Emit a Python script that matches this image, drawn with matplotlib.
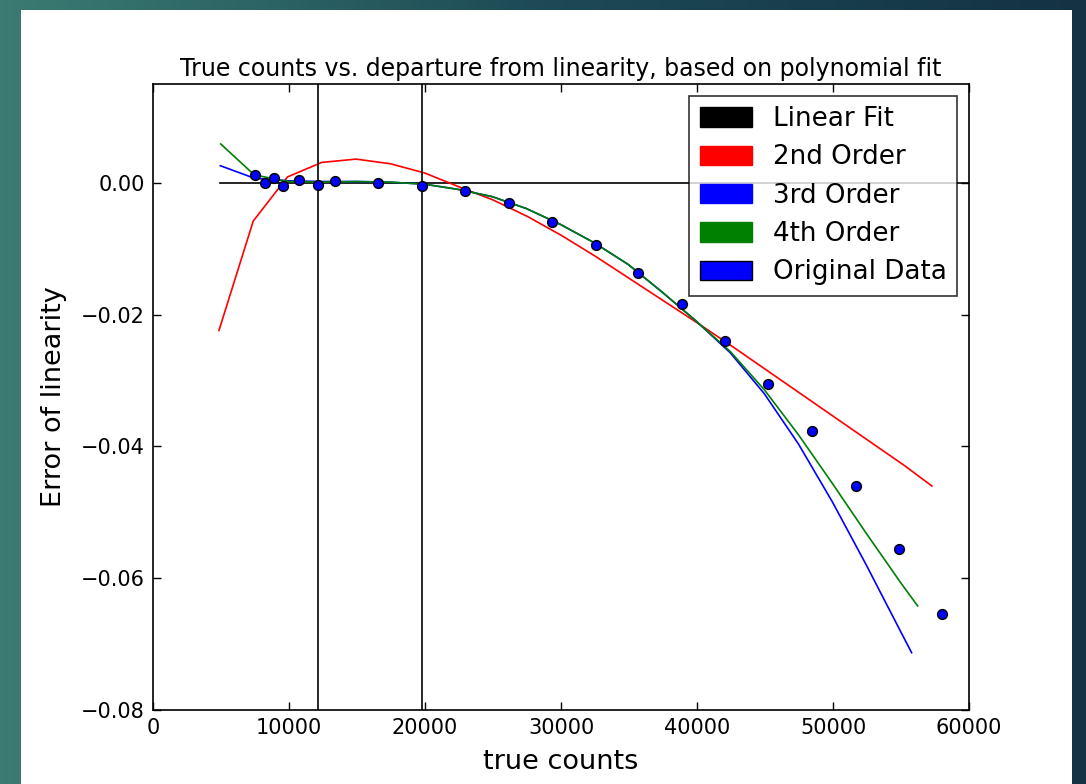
import numpy as np
import matplotlib
matplotlib.use("Agg")
import matplotlib.pyplot as plt
import matplotlib.patches as mpatches

# --- measured data (true counts vs error of linearity) ---
data_x = [7500, 8230, 8900, 9560, 10740, 12130, 13380, 16540, 19780, 22940,
          26180, 29360, 32560, 35680, 38880, 42060, 45240, 48480, 51670, 54830, 58050]
data_y = [0.0012, 0.0000, 0.0008, -0.0005, 0.0005, -0.0003, 0.0003, 0.0000, -0.0005, -0.0012,
          -0.0030, -0.0059, -0.0094, -0.0137, -0.0184, -0.0240, -0.0305, -0.0376, -0.0460, -0.0556, -0.0655]

# --- fits ---
lin_x = [4900, 62000]
lin_y = [0.0, 0.0]

red_x = [4850, 7370, 9890, 12410, 14930, 17450, 19970, 22490, 25010, 27530, 30050,
         32570, 35090, 37610, 40130, 42650, 45170, 47690, 50210, 52730, 55250, 57270]
red_y = [-0.0224, -0.0058, 0.0009, 0.0031, 0.0036, 0.0029, 0.0015, -0.0006, -0.0026, -0.0051, -0.0080,
         -0.0112, -0.0146, -0.0180, -0.0214, -0.0249, -0.0285, -0.0321, -0.0357, -0.0393, -0.0429, -0.0460]

blue_x = [4950, 7450, 9950, 12450, 14950, 17450, 19950, 22450, 24950, 27450, 29950,
          32450, 34950, 37450, 39950, 42450, 44950, 47450, 49950, 52450, 54950, 55780]
blue_y = [0.0026, 0.0007, 0.0003, 0.0002, 0.0002, 0.0001, -0.0002, -0.0010, -0.0021, -0.0039, -0.0063,
          -0.0091, -0.0124, -0.0166, -0.0210, -0.0258, -0.0320, -0.0396, -0.0484, -0.0580, -0.0680, -0.0713]

green_x = [4980, 7450, 9950, 12450, 14950, 17450, 19950, 22450, 24950, 27450, 29950,
           32450, 34950, 37450, 39950, 42450, 44950, 47450, 49950, 52450, 54950, 56220]
green_y = [0.0059, 0.0012, 0.0002, 0.0001, 0.0002, 0.0001, -0.0002, -0.0010, -0.0021, -0.0039, -0.0063,
           -0.0091, -0.0124, -0.0166, -0.0210, -0.0256, -0.0314, -0.0382, -0.0456, -0.0532, -0.0606, -0.0642]

# range used for the fit
fit_range = [12130, 19780]

W, H = 1086, 784
fig = plt.figure(figsize=(W / 100, H / 100), dpi=100)

# slide background: teal gradient with white card
bg = fig.add_axes([0, 0, 1, 1], zorder=-5)
grad = np.linspace(0, 1, 256)[None, :]
cmap = matplotlib.colors.LinearSegmentedColormap.from_list("slide", ["#3b7b73", "#1d4a55", "#143244"])
bg.imshow(grad, aspect="auto", cmap=cmap, extent=[0, 1, 0, 1])
bg.add_patch(mpatches.Rectangle((21 / W, 0), (1072 - 21) / W, (H - 10) / H,
                                facecolor="white", edgecolor="none"))
bg.set_xlim(0, 1)
bg.set_ylim(0, 1)
bg.axis("off")

ax = fig.add_axes([153 / W, 1 - 710 / H, (969 - 153) / W, (710 - 84) / H])
ax.set_facecolor("white")

ax.plot(lin_x, lin_y, color="black", lw=1.2)
ax.plot(red_x, red_y, color="red", lw=1.2)
ax.plot(blue_x, blue_y, color="blue", lw=1.2)
ax.plot(green_x, green_y, color="green", lw=1.2)
ax.scatter(data_x, data_y, s=50, c="blue", edgecolors="black", linewidths=1, zorder=5)
for v in fit_range:
    ax.axvline(v, color="black", lw=1.2)

ax.set_xlim(0, 60000)
ax.set_ylim(-0.08, 0.015)
ax.set_xticks([0, 10000, 20000, 30000, 40000, 50000, 60000])
ax.set_yticks([-0.08, -0.06, -0.04, -0.02, 0.00])
ax.set_yticklabels(["\u22120.08", "\u22120.06", "\u22120.04", "\u22120.02", "0.00"])
ax.tick_params(direction="in", top=True, right=True, length=6, width=1,
               labelsize=15, pad=6)
for sp in ax.spines.values():
    sp.set_linewidth(1.2)

ax.set_xlabel("true counts", fontsize=19.5, labelpad=8)
ax.set_ylabel("Error of linearity", fontsize=19.5, labelpad=10)
ax.set_title("True counts vs. departure from linearity, based on polynomial fit",
             fontsize=17, pad=6)

handles = [
    mpatches.Patch(color="black", label="Linear Fit"),
    mpatches.Patch(color="red", label="2nd Order"),
    mpatches.Patch(color="blue", label="3rd Order"),
    mpatches.Patch(color="green", label="4th Order"),
    mpatches.Patch(facecolor="blue", edgecolor="black", label="Original Data"),
]
leg = ax.legend(handles=handles, loc="upper right", fontsize=18.8, fancybox=False,
                handlelength=2.0, handleheight=0.76, borderaxespad=0.45,
                labelspacing=0.47, handletextpad=0.8, borderpad=0.4)
leg.get_frame().set_edgecolor("black")
leg.get_frame().set_linewidth(1.2)

fig.savefig("out.png", dpi=100)
